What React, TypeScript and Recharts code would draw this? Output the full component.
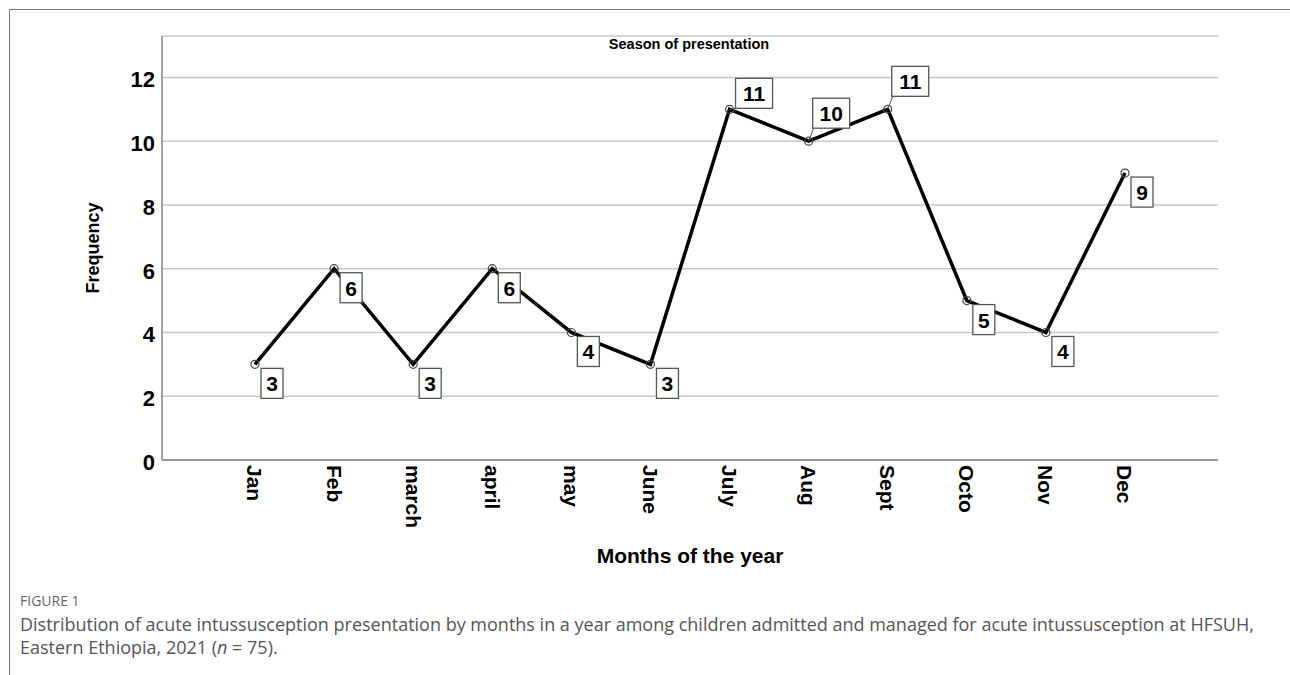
import { LineChart, Line, XAxis, YAxis, CartesianGrid, LabelList } from "recharts";

const MONTHS = ["Jan", "Feb", "march", "april", "may", "June", "July", "Aug", "Sept", "Octo", "Nov", "Dec"];
const FREQUENCY = [3, 6, 3, 6, 4, 3, 11, 10, 11, 5, 4, 9];
const Y_TICKS = [0, 2, 4, 6, 8, 10, 12];
// which side of the point each value box sits on
const LABEL_SIDE = ["below", "below", "below", "below", "below", "below", "near", "above", "above", "below", "below", "below"];

const FONT = '"Liberation Sans", Arial, sans-serif';
const CAPTION_FONT = '"Open Sans", "Noto Sans", sans-serif';
const AXIS = "#808080";

const data = MONTHS.map((m, i) => ({ month: m, freq: FREQUENCY[i] }));

function ValueBox(props: any) {
  const { x, y, value, index } = props;
  const side = LABEL_SIDE[index];
  const w = String(value).length > 1 ? 37 : 22;
  const h = 30;
  let bx = x + 6;
  let by = y + 4;
  if (side === "above") {
    bx = x + 4;
    by = y - 13 - h;
  } else if (side === "near") {
    bx = x + 6;
    by = y - 1 - h;
  }
  return (
    <g>
      {side !== "below" && <line x1={x} y1={y} x2={bx + 1} y2={by + h} stroke="#555" strokeWidth={1} />}
      <rect x={bx} y={by} width={w} height={h} fill="#fff" stroke="#555" strokeWidth={1.3} />
      <text x={bx + w / 2} y={by + 23} textAnchor="middle" fontFamily={FONT} fontWeight="bold" fontSize={21} fill="#000">
        {value}
      </text>
    </g>
  );
}

function YTick({ x, y, payload }: any) {
  return (
    <text x={x} y={y + 10} textAnchor="end" fontFamily={FONT} fontWeight="bold" fontSize={22} fill="#000">
      {payload.value}
    </text>
  );
}

function XTick({ x, y, payload }: any) {
  return (
    <g transform={`translate(${x},${y + 5}) rotate(90)`}>
      <text x={0} y={0} dy="0.36em" textAnchor="start" fontFamily={FONT} fontWeight="bold" fontSize={21} fill="#000">
        {payload.value}
      </text>
    </g>
  );
}

function XTitle({ viewBox }: any) {
  const { x, y, width } = viewBox;
  return (
    <text x={x + width / 2} y={y + 103} textAnchor="middle" fontFamily={FONT} fontWeight="bold" fontSize={21} fill="#000">
      Months of the year
    </text>
  );
}

function YTitle({ viewBox }: any) {
  const { x, y, height } = viewBox;
  return (
    <text
      transform={`translate(${x + 37},${y + height / 2}) rotate(-90)`}
      textAnchor="middle"
      fontFamily={FONT}
      fontWeight="bold"
      fontSize={18}
      fill="#000"
    >
      Frequency
    </text>
  );
}

export default function App() {
  return (
    <div style={{ position: "absolute", left: 0, top: 0, width: 1290, height: 675, background: "#fff", overflow: "hidden" }}>
      <div
        style={{
          position: "absolute",
          left: 9,
          top: 9,
          right: 0,
          bottom: 0,
          borderTop: "1px solid #777",
          borderLeft: "1px solid #777",
        }}
      />
      <div style={{ position: "absolute", left: 0, top: 0 }}>
        <LineChart width={1290} height={580} data={data} margin={{ top: 36, right: 72, bottom: 10, left: 62 }}>
          <CartesianGrid vertical={false} stroke="#c8c8c8" strokeWidth={1.5} />
          <XAxis
            dataKey="month"
            interval={0}
            padding={{ left: 93, right: 93 }}
            tickLine={false}
            tickSize={0}
            tickMargin={0}
            axisLine={{ stroke: AXIS, strokeWidth: 1.5 }}
            tick={<XTick />}
            height={110}
            label={<XTitle />}
          />
          <YAxis
            type="number"
            domain={[0, 13.3]}
            ticks={Y_TICKS}
            interval={0}
            width={100}
            tickLine={false}
            tickSize={0}
            tickMargin={7}
            axisLine={{ stroke: AXIS, strokeWidth: 1.5 }}
            tick={<YTick />}
            label={<YTitle />}
          />
          <Line
            dataKey="freq"
            stroke="#000"
            strokeWidth={3.5}
            dot={{ r: 4, fill: "none", stroke: "#444", strokeWidth: 1.2 }}
            isAnimationActive={false}
          >
            <LabelList dataKey="freq" content={<ValueBox />} />
          </Line>
        </LineChart>
      </div>
      <div
        style={{
          position: "absolute",
          left: 0,
          top: 37,
          width: 1378,
          textAlign: "center",
          fontFamily: FONT,
          fontWeight: "bold",
          fontSize: 14.5,
          lineHeight: 1,
          color: "#000",
        }}
      >
        Season of presentation
      </div>
      <div style={{ position: "absolute", left: 20, top: 589, fontFamily: CAPTION_FONT, color: "#666", whiteSpace: "nowrap" }}>
        <div style={{ fontSize: 14, lineHeight: "23px" }}>FIGURE 1</div>
        <div style={{ fontSize: 18, lineHeight: "24px", color: "#555" }}>
          Distribution of acute intussusception presentation by months in a year among children admitted and managed for acute intussusception at HFSUH,
        </div>
        <div style={{ fontSize: 18, lineHeight: "23px", color: "#555" }}>
          Eastern Ethiopia, 2021 (<i>n</i> = 75).
        </div>
      </div>
    </div>
  );
}
